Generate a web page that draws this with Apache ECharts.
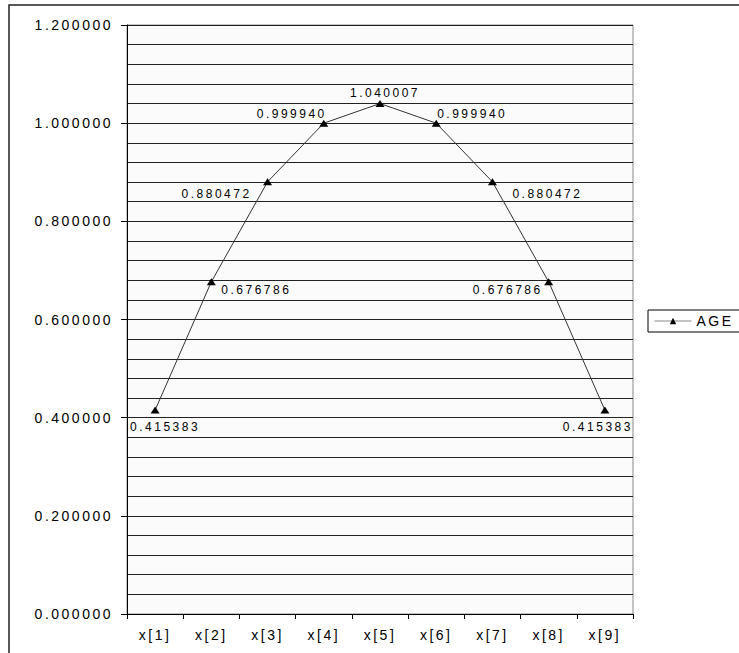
<!DOCTYPE html>
<html><head><meta charset="utf-8">
<script src="https://cdn.jsdelivr.net/npm/echarts@6/dist/echarts.min.js"></script>
<style>
html,body{margin:0;padding:0;background:#fff;}
#chart{width:739px;height:653px;}
#chart text{letter-spacing:2.5px;}
</style></head><body><div id="chart"></div>
<script>
const categories = ['x[1]','x[2]','x[3]','x[4]','x[5]','x[6]','x[7]','x[8]','x[9]'];
const ageValues = [0.415383,0.676786,0.880472,0.999940,1.040007,0.999940,0.880472,0.676786,0.415383];
const seriesName = 'AGE';
// label placement (style only): offset of label centre from its point, in px
const labelOffsets = [[10,17],[45,8],[-51,12],[-32,-9],[5,-11],[36,-9],[55,12],[-41,8],[-7,17]];

const font = "'Liberation Sans', Arial, sans-serif";
const chart = echarts.init(document.getElementById('chart'), null, {renderer:'svg'});
chart.setOption({
  animation:false,
  backgroundColor:'#fff',
  textStyle:{fontFamily:font},
  graphic:[{type:'rect',silent:true,shape:{x:9,y:5,width:900,height:900},style:{fill:'none',stroke:'#222',lineWidth:1.5}}],
  grid:{left:127,right:106,top:25,bottom:39,show:true,backgroundColor:'#fbfbfb',borderColor:'#8a8a8a',borderWidth:1},
  legend:{data:[seriesName],left:648,top:310,orient:'vertical',borderColor:'#000',borderWidth:1,borderRadius:0,
    padding:[4,40,4,6],itemWidth:37,itemHeight:8,
    textStyle:{fontSize:14,color:'#000',fontFamily:font},
    lineStyle:{color:'#888',width:1},itemStyle:{color:'#000'}},
  xAxis:{type:'category',data:categories,boundaryGap:true,
    axisLine:{lineStyle:{color:'#000',width:1}},
    axisTick:{show:true,length:5,lineStyle:{color:'#000'}},
    axisLabel:{fontSize:14,color:'#000',margin:14,fontFamily:font},
    splitLine:{show:false}},
  yAxis:{type:'value',min:0,max:1.2,interval:0.2,
    axisLine:{show:true,lineStyle:{color:'#000',width:1}},
    axisTick:{show:true,length:6,lineStyle:{color:'#000'}},
    axisLabel:{fontSize:14,color:'#000',margin:14,fontFamily:font,formatter:v=>v.toFixed(6)},
    splitLine:{show:true,lineStyle:{color:'#222',width:1}},
    minorTick:{show:false,splitNumber:5},
    minorSplitLine:{show:true,lineStyle:{color:'#222',width:1}}},
  series:[{
    name:seriesName,type:'line',
    data:ageValues.map((v,i)=>({value:v,label:{offset:labelOffsets[i]}})),
    symbol:'triangle',symbolSize:[9,7],
    lineStyle:{color:'#333',width:1},
    itemStyle:{color:'#000'},
    label:{show:true,position:'inside',align:'center',verticalAlign:'middle',
      fontSize:12,color:'#000',fontFamily:font,formatter:p=>p.value.toFixed(6)}
  }]
});
</script></body></html>
